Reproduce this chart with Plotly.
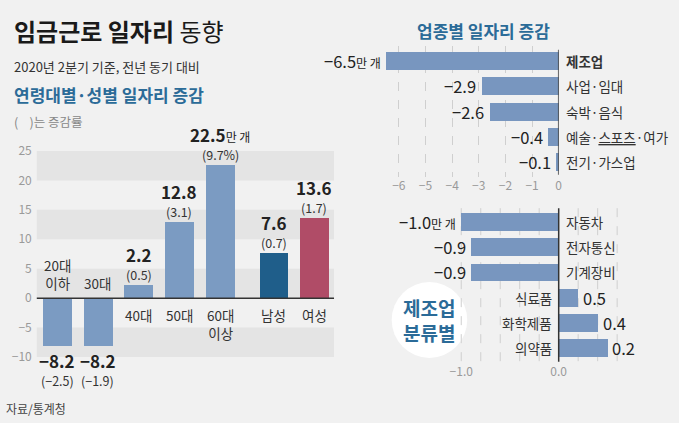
import plotly.graph_objects as go
import numpy as np

W, H = 679, 423
FONT = "Noto Sans CJK KR"

# ---------------- data ----------------
age_cats = ["20대<br>이하", "30대", "40대", "50대", "60대<br>이상", "남성", "여성"]
age_pos = [0, 1, 2, 3, 4, 5.32, 6.32]
age_vals = [-8.2, -8.2, 2.2, 12.8, 22.5, 7.6, 13.6]
age_pct = ["(−2.5)", "(−1.9)", "(0.5)", "(3.1)", "(9.7%)", "(0.7)", "(1.7)"]
age_colors = ["#7b9bc2"] * 5 + ["#1f5e8a", "#b04c67"]
age_ticks = [-10, -5, 0, 5, 10, 15, 20, 25]

ind_cats = ["<b>제조업</b>", "사업·임대", "숙박·음식", "예술·<span style='text-decoration:underline'>스포츠</span>·여가", "전기·가스업"]
ind_vals = [-6.5, -2.9, -2.6, -0.4, -0.1]
ind_ticks = [-6, -5, -4, -3, -2, -1, 0]

mfg_cats = ["자동차", "전자통신", "기계장비", "식료품", "화학제품", "의약품"]
mfg_labels = [-1.0, -0.9, -0.9, 0.5, 0.4, 0.2]      # printed values
mfg_bar_len = [-1.0, -0.9, -0.9, 0.2, 0.4, 0.5]     # bar lengths as drawn in the picture
mfg_ticks = [-1.0, 0.0]

BAR = "#7896bf"
BG = "#f1f1f1"
BAND = "#e4e4e4"
BLUE_T = "#2b6b98"
TXT = "#222222"


def px(x):
    return x / W


def py(y):
    return 1 - y / H


def fmt(v):
    s = f"{abs(v):.1f}"
    return ("−" + s) if v < 0 else s


fig = go.Figure()

fig.add_trace(go.Bar(x=age_pos, y=age_vals, marker=dict(color=age_colors, line=dict(width=0)),
                     width=0.71, xaxis="x", yaxis="y", hoverinfo="skip"))
fig.add_trace(go.Bar(x=ind_vals, y=list(range(len(ind_vals))), orientation="h",
                     marker=dict(color=BAR, line=dict(width=0)), width=0.71,
                     xaxis="x2", yaxis="y2", hoverinfo="skip"))
fig.add_trace(go.Bar(x=mfg_bar_len, y=list(range(len(mfg_bar_len))), orientation="h",
                     marker=dict(color=BAR, line=dict(width=0)), width=0.71,
                     xaxis="x3", yaxis="y3", hoverinfo="skip"))

shapes = []
for lo in [20, 10, 0, -10]:
    shapes.append(dict(type="rect", xref="x domain", yref="y", x0=0, x1=1, y0=lo, y1=lo + 5,
                       fillcolor=BAND, line=dict(width=0), layer="below"))
shapes.append(dict(type="line", xref="x domain", yref="y", x0=0, x1=1, y0=0, y1=0,
                   line=dict(color="#333333", width=1.5)))
shapes.append(dict(type="line", xref="x2", yref="y2", x0=0, x1=0, y0=-0.45, y1=4.5,
                   line=dict(color="#333333", width=1.5)))
for g in np.arange(-1.0, 0.61, 0.2):
    if abs(g) < 1e-9:
        continue
    shapes.append(dict(type="line", xref="x3", yref="y3", x0=g, x1=g, y0=-0.55, y1=5.55,
                       line=dict(color="#cfcfcf", width=1, dash="dash"), layer="below"))
shapes.append(dict(type="circle", xref="paper", yref="paper", x0=px(394), x1=px(470),
                   y0=py(358), y1=py(282), fillcolor="white", line=dict(width=0), layer="below"))
shapes.append(dict(type="line", xref="x3", yref="y3", x0=0, x1=0, y0=-0.55, y1=5.55,
                   line=dict(color="#333333", width=1.5)))

ann = []


def A(text, x, y, size, color=TXT, xanchor="left", yanchor="middle", **kw):
    d = dict(text=text, x=x, y=y, xref=kw.pop("xref", "paper"), yref=kw.pop("yref", "paper"),
             showarrow=False, xanchor=xanchor, yanchor=yanchor,
             font=dict(family=FONT, size=size, color=color))
    d.update(kw)
    ann.append(d)


A("<b>임금근로 일자리</b> 동향", px(12), py(31), 24, "#1a1a1a")
A("2020년 2분기 기준, 전년 동기 대비", px(12), py(66), 13, "#333333")
A("<b>연령대별·성별 일자리 증감</b>", px(12), py(94), 17, BLUE_T)
A("(    )는 증감률", px(12), py(122), 12.5, "#888888")
A("<b>업종별 일자리 증감</b>", px(486), py(31), 17, BLUE_T, xanchor="center")
A("자료/통계청", px(4), py(408), 12, "#444444")
A("<b>제조업<br>분류별</b>", px(432), py(320), 19, BLUE_T, xanchor="center")

for i, (c, x, v, p) in enumerate(zip(age_cats, age_pos, age_vals, age_pct)):
    vt = f"<b>{fmt(v)}</b>"
    if i == 4:
        vt += "<span style='font-size:12px'>만 개</span>"
    if v >= 0:
        A(vt, x, v, 17, xref="x", yref="y", xanchor="center", yshift=31)
        A(p, x, v, 12.5, "#333333", xref="x", yref="y", xanchor="center", yshift=11)
        A(c, x, 0, 13.5, "#333333", xref="x", yref="y", xanchor="center", yanchor="top", yshift=-5)
    else:
        A(vt, x, v, 17, xref="x", yref="y", xanchor="center", yshift=-14)
        A(p, x, v, 12.5, "#333333", xref="x", yref="y", xanchor="center", yshift=-34)
        A(c, x, 0, 13.5, "#333333", xref="x", yref="y", xanchor="center", yanchor="bottom", yshift=3)

for i, (c, v) in enumerate(zip(ind_cats, ind_vals)):
    vt = fmt(v)
    if i == 0:
        vt += "<span style='font-size:12px'>만 개</span>"
    A(vt, v, i, 16.5, xref="x2", yref="y2", xanchor="right", xshift=-3)
    A(c, 0, i, 13.5, "#333333", xref="x2", yref="y2", xanchor="left", xshift=5)

for i, (c, v, b) in enumerate(zip(mfg_cats, mfg_labels, mfg_bar_len)):
    vt = fmt(v)
    if i == 0:
        vt += "<span style='font-size:12px'>만 개</span>"
    if b < 0:
        A(vt, b, i, 16.5, xref="x3", yref="y3", xanchor="right", xshift=-3)
        A(c, 0, i, 13.5, "#333333", xref="x3", yref="y3", xanchor="left", xshift=5)
    else:
        A(vt, b, i, 16.5, xref="x3", yref="y3", xanchor="left", xshift=3)
        A(c, 0, i, 13.5, "#333333", xref="x3", yref="y3", xanchor="right", xshift=-5)

tickfont = dict(family=FONT, size=12, color="#9a9a9a")


def mtext(v, one_dec=False):
    s = f"{abs(v):.1f}" if one_dec else f"{abs(v):g}"
    return ("−" + s) if v < 0 else s


fig.update_layout(
    width=W, height=H, margin=dict(l=0, r=0, t=0, b=0),
    paper_bgcolor=BG, plot_bgcolor="rgba(0,0,0,0)", showlegend=False,
    bargap=0,
    xaxis=dict(domain=[px(37), px(336)], range=[-0.5, 6.8], visible=False, fixedrange=True),
    yaxis=dict(domain=[py(374.7), py(133.3)], range=[-13, 28], tickvals=age_ticks,
               ticktext=[mtext(t) for t in age_ticks], showgrid=False, zeroline=False,
               showline=False, ticks="", tickfont=tickfont, ticklabelstandoff=4),
    xaxis2=dict(domain=[px(361), px(562)], range=[-7.5, 0], tickvals=ind_ticks,
                ticktext=[mtext(t) for t in ind_ticks], showgrid=True, gridcolor="#cfcfcf",
                griddash="dash", zeroline=False, showline=False, ticks="", tickfont=tickfont,
                anchor="y2"),
    yaxis2=dict(domain=[py(177.2), py(45.9)], range=[4.6, -0.6], visible=False, anchor="x2"),
    xaxis3=dict(domain=[px(444.4), px(640.4)], range=[-1.2, 0.8], tickvals=mfg_ticks,
                ticktext=[mtext(t, True) for t in mfg_ticks], showgrid=False, zeroline=False,
                showline=False, ticks="", tickfont=tickfont, anchor="y3"),
    yaxis3=dict(domain=[py(363.1), py(206.9)], range=[5.6, -0.6], visible=False, anchor="x3"),
    shapes=shapes, annotations=ann,
)

fig.write_html("out.html")
